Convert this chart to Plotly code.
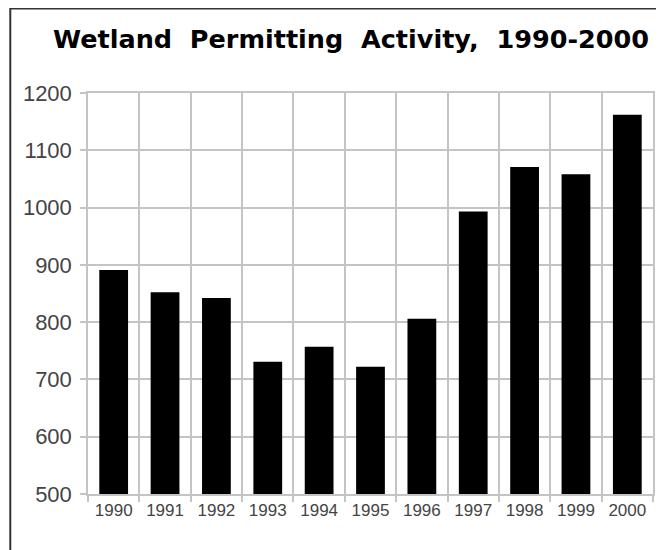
import plotly.graph_objects as go

years = ["1990", "1991", "1992", "1993", "1994", "1995", "1996", "1997", "1998", "1999", "2000"]
permits = [891, 852, 842, 731, 757, 722, 806, 993, 1071, 1058, 1162]
title_words = ["Wetland", "Permitting", "Activity,", "1990-2000"]

# page body has an 8px margin, so the figure is drawn 8px in from the window edge
OFF = 8
W, H = 664 - OFF, 550 - OFF
L, R, T, B = 88 - OFF, 9, 93 - OFF, 56
pw, ph = W - L - R, H - T - B

def px_x(p):
    return (p - OFF - L) / pw

def px_y(p):
    return (H - B - (p - OFF)) / ph

fig = go.Figure(go.Bar(x=years, y=permits, marker=dict(color="black", line=dict(width=0))))

grid = "#c4c4c4"
fig.update_layout(
    width=W, height=H,
    margin=dict(l=L, r=R, t=T, b=B),
    paper_bgcolor="white", plot_bgcolor="white",
    bargap=0.44,
    showlegend=False,
    title=dict(text=" \u00a0".join(title_words), x=(351 - OFF) / W, xanchor="center",
               y=1 - (39.5 - OFF) / H, yanchor="middle",
               font=dict(family="DejaVu Sans", size=25.5, color="black", weight="bold")),
    xaxis=dict(type="category", tickson="boundaries", showgrid=True, gridcolor=grid, gridwidth=1.5,
               ticks="outside", ticklen=6, tickcolor=grid, tickwidth=1.5,
               showline=True, linecolor=grid, linewidth=1.5, mirror=True,
               tickfont=dict(family="Liberation Sans", size=17, color="#444"),
               range=[-0.5, 10.5], fixedrange=True),
    yaxis=dict(range=[500, 1200], dtick=100, showgrid=True, gridcolor=grid, gridwidth=1.5,
               ticks="outside", ticklen=6, tickcolor=grid, tickwidth=1.5,
               showline=True, linecolor=grid, linewidth=1.5, mirror=True,
               tickfont=dict(family="Liberation Sans", size=22, color="#444"),
               ticklabelstandoff=4, zeroline=False),
    shapes=[dict(type="rect", xref="paper", yref="paper",
                 x0=px_x(10), x1=px_x(690), y0=px_y(580), y1=px_y(8.5),
                 line=dict(color="#333", width=2), fillcolor="rgba(0,0,0,0)", layer="above")],
)

fig.write_html("out.html")
